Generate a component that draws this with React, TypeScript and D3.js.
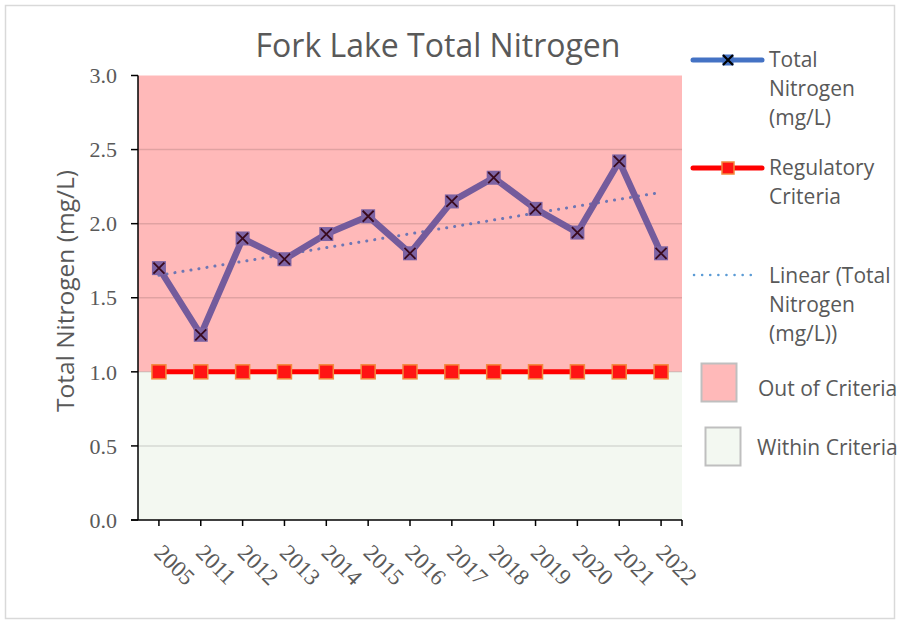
import React from "react";
import * as d3 from "d3";

const years = ["2005", "2011", "2012", "2013", "2014", "2015", "2016", "2017", "2018", "2019", "2020", "2021", "2022"];
const nitrogen = [1.70, 1.25, 1.90, 1.76, 1.93, 2.05, 1.80, 2.15, 2.31, 2.10, 1.94, 2.42, 1.80];
const criteria = [1.0, 1.0, 1.0, 1.0, 1.0, 1.0, 1.0, 1.0, 1.0, 1.0, 1.0, 1.0, 1.0];
const yTicks = [0, 0.5, 1.0, 1.5, 2.0, 2.5, 3.0];
const outOfCriteriaBand = [1.0, 3.0];
const withinCriteriaBand = [0, 1.0];

const W = 901;
const H = 621;
const PL = 138, PR = 682, PT = 75.5, PB = 520;
const SANS = "'Open Sans', 'Noto Sans', sans-serif";
const SERIF = "'Liberation Serif', 'DejaVu Serif', serif";
const TXT = "#595959";

export default function App() {
  const x = d3.scaleBand<string>().domain(years).range([PL, PR]).padding(0);
  const xc = (d: string) => (x(d) as number) + x.bandwidth() / 2;
  const y = d3.scaleLinear().domain([0, 3]).range([PB, PT]);

  const line = d3.line<number>().x((_, i) => xc(years[i])).y((v) => y(v));

  // linear trend (least squares over index)
  const n = nitrogen.length;
  const idx = nitrogen.map((_, i) => i + 1);
  const mx = d3.mean(idx) as number;
  const my = d3.mean(nitrogen) as number;
  const sxy = d3.sum(idx.map((xi, i) => (xi - mx) * (nitrogen[i] - my)));
  const sxx = d3.sum(idx.map((xi) => (xi - mx) ** 2));
  const slope = sxy / sxx;
  const icpt = my - slope * mx;
  const t0 = icpt + slope * 1;
  const t1 = icpt + slope * n;

  const mk = 14;
  const legX = 769;

  return (
    <div style={{ position: "absolute", left: 0, top: 0 }}>
      <svg width={W} height={H} style={{ display: "block" }}>
        <rect x={0} y={0} width={W} height={H} fill="#ffffff" />
        <rect x={5.5} y={5.5} width={889} height={613} fill="#ffffff" stroke="#d9d9d9" strokeWidth={1.5} />

        {/* background bands */}
        <rect x={PL} y={y(outOfCriteriaBand[1])} width={PR - PL} height={y(outOfCriteriaBand[0]) - y(outOfCriteriaBand[1])} fill="#ffb9b9" />
        <rect x={PL} y={y(withinCriteriaBand[1])} width={PR - PL} height={y(withinCriteriaBand[0]) - y(withinCriteriaBand[1])} fill="#f3f8f1" />

        {/* gridlines */}
        {yTicks.filter((t) => t > 0 && t < 3).map((t) => (
          <line key={"g" + t} x1={PL} x2={PR} y1={y(t)} y2={y(t)} stroke="#000" strokeOpacity={0.12} strokeWidth={1.5} />
        ))}

        {/* title */}
        <text x={438} y={57} textAnchor="middle" fontFamily={SANS} fontSize={32} fill={TXT}>Fork Lake Total Nitrogen</text>

        {/* y axis */}
        <line x1={PL} x2={PL} y1={PT} y2={PB} stroke="#000" strokeWidth={1.5} />
        {yTicks.map((t) => (
          <g key={"yt" + t}>
            <line x1={PL - 7} x2={PL} y1={y(t)} y2={y(t)} stroke="#000" strokeWidth={1.5} />
            <text x={117} y={y(t)} dy="0.35em" textAnchor="end" fontFamily={SERIF} fontSize={22} fill={TXT}>{t.toFixed(1)}</text>
          </g>
        ))}
        <text transform={`translate(74,291) rotate(-90)`} textAnchor="middle" fontFamily={SANS} fontSize={24.5} fill={TXT}>Total Nitrogen (mg/L)</text>

        {/* x axis */}
        <line x1={PL - 7} x2={PR} y1={PB} y2={PB} stroke="#000" strokeWidth={1.5} />
        {years.map((yr) => (
          <g key={"xt" + yr}>
            <line x1={xc(yr)} x2={xc(yr)} y1={PB} y2={PB + 6} stroke="#000" strokeWidth={1.5} />
            <text transform={`translate(${xc(yr) - 6},554) rotate(45)`} fontFamily={SERIF} fontSize={23} fill={TXT}>{yr}</text>
          </g>
        ))}
        <line x1={PR} x2={PR} y1={PB} y2={PB + 6} stroke="#000" strokeWidth={1.5} />

        {/* regulatory criteria */}
        <path d={line(criteria) as string} fill="none" stroke="#ff0000" strokeWidth={5} />
        {criteria.map((v, i) => (
          <rect key={"c" + i} x={xc(years[i]) - mk / 2} y={y(v) - mk / 2} width={mk} height={mk} fill="#ff1414" stroke="#f4893c" strokeWidth={1.5} />
        ))}

        {/* trend line */}
        <line x1={xc(years[0])} y1={y(t0)} x2={xc(years[n - 1])} y2={y(t1)} stroke="#6d76b4" strokeWidth={3} strokeDasharray="0.1 8" strokeLinecap="round" />

        {/* nitrogen series */}
        <path d={line(nitrogen) as string} fill="none" stroke="#745b9c" strokeWidth={6.5} strokeLinejoin="round" />
        {nitrogen.map((v, i) => {
          const cx = xc(years[i]);
          const cy = y(v);
          const h = mk / 2;
          return (
            <g key={"n" + i}>
              <rect x={cx - h} y={cy - h} width={mk} height={mk} fill="#7d63a3" />
              <path d={`M${cx - h + 1.5},${cy - h + 1.5}L${cx + h - 1.5},${cy + h - 1.5}M${cx + h - 1.5},${cy - h + 1.5}L${cx - h + 1.5},${cy + h - 1.5}`} stroke="#3a0a1e" strokeWidth={1.8} />
            </g>
          );
        })}

        {/* legend */}
        <line x1={693} x2={762} y1={60} y2={60} stroke="#4472c4" strokeWidth={5} strokeLinecap="round" />
        <rect x={722.5} y={54.5} width={11} height={11} fill="#4472c4" />
        <path d="M723,55L733,65M733,55L723,65" stroke="#000" strokeWidth={2.2} />
        <text fontFamily={SANS} fontSize={21} fill={TXT}>
          <tspan x={legX} y={67}>Total</tspan>
          <tspan x={legX} y={96}>Nitrogen</tspan>
          <tspan x={legX} y={125}>(mg/L)</tspan>
        </text>

        <line x1={693} x2={762} y1={168} y2={168} stroke="#ff0000" strokeWidth={5} strokeLinecap="round" />
        <rect x={722} y={162} width={12} height={12} fill="#ff1414" stroke="#f4893c" strokeWidth={1.5} />
        <text fontFamily={SANS} fontSize={21} fill={TXT}>
          <tspan x={legX} y={175}>Regulatory</tspan>
          <tspan x={legX} y={204}>Criteria</tspan>
        </text>

        <line x1={694} x2={758} y1={275} y2={275} stroke="#5b9bd5" strokeWidth={2.5} strokeDasharray="0.1 8" strokeLinecap="round" />
        <text fontFamily={SANS} fontSize={21} fill={TXT}>
          <tspan x={legX} y={283}>Linear (Total</tspan>
          <tspan x={legX} y={312}>Nitrogen</tspan>
          <tspan x={legX} y={341}>(mg/L))</tspan>
        </text>

        <rect x={701.5} y={363.5} width={35} height={38} fill="#ffb9b9" stroke="#bfbfbf" strokeWidth={2} />
        <text x={758} y={396} fontFamily={SANS} fontSize={21} fill={TXT}>Out of Criteria</text>

        <rect x={705.5} y={427.5} width={35} height={38} fill="#f3f8f1" stroke="#bfbfbf" strokeWidth={2} />
        <text x={757} y={455} fontFamily={SANS} fontSize={21} fill={TXT}>Within Criteria</text>
      </svg>
    </div>
  );
}
